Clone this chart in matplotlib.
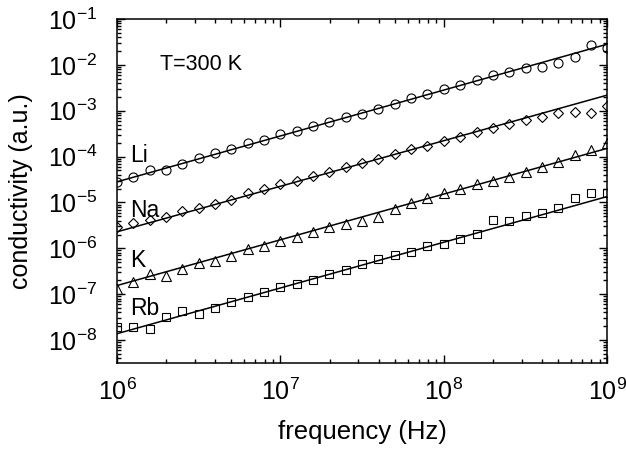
import numpy as np
import matplotlib
matplotlib.use("Agg")
import matplotlib.pyplot as plt
from matplotlib.ticker import LogLocator, NullFormatter

plt.rcParams['font.family'] = ['Liberation Sans', 'DejaVu Sans']
plt.rcParams['mathtext.fontset'] = 'custom'
plt.rcParams['mathtext.rm'] = 'Liberation Sans'
plt.rcParams['mathtext.it'] = 'Liberation Sans'

# log10 of frequency, 10 points per decade
log_freq = np.arange(31) / 10.0 + 6.0

# log10 of conductivity
li = [-4.55, -4.44, -4.30, -4.29, -4.17, -4.04, -3.93, -3.83, -3.71, -3.64,
      -3.51, -3.44, -3.33, -3.24, -3.14, -3.07, -2.97, -2.85, -2.73, -2.64,
      -2.53, -2.43, -2.32, -2.23, -2.15, -2.08, -2.05, -1.95, -1.83, -1.57, -1.63]
na = [-5.54, -5.44, -5.38, -5.31, -5.18, -5.11, -5.03, -4.95, -4.80, -4.71,
      -4.60, -4.53, -4.43, -4.33, -4.23, -4.15, -4.05, -3.94, -3.84, -3.76,
      -3.67, -3.57, -3.46, -3.38, -3.30, -3.20, -3.14, -3.06, -3.03, -3.05, -2.90]
k = [-6.89, -6.73, -6.56, -6.60, -6.46, -6.33, -6.28, -6.17, -6.01, -5.95,
     -5.83, -5.75, -5.64, -5.53, -5.47, -5.40, -5.32, -5.15, -5.01, -4.90,
     -4.80, -4.70, -4.59, -4.53, -4.45, -4.34, -4.22, -4.12, -3.97, -3.86, -3.71]
rb = [-7.72, -7.72, -7.75, -7.49, -7.36, -7.42, -7.29, -7.18, -7.06, -6.95,
      -6.85, -6.78, -6.68, -6.55, -6.47, -6.35, -6.24, -6.15, -6.07, -5.94,
      -5.91, -5.80, -5.69, -5.39, -5.40, -5.30, -5.24, -5.11, -4.91, -4.80, -4.80]

# fitted lines: log10 value at 1e6 and 1e9
fit_li = [-4.55, -1.55]
fit_na = [-5.64, -2.66]
fit_k = [-6.81, -3.82]
fit_rb = [-7.86, -4.87]

names = ['Li', 'Na', 'K', 'Rb']
series = [li, na, k, rb]
fits = [fit_li, fit_na, fit_k, fit_rb]
markers = ['o', 'D', '^', 's']
msizes = [6.5, 5.0, 6.5, 5.5]
label_y = [1.07e-4, 6.8e-6, 5.4e-7, 5.0e-8]

fig = plt.figure(figsize=(6.26, 4.51), dpi=100)
ax = fig.add_axes([0.187, 0.195, 0.783, 0.763])

freq = 10 ** log_freq
for s, f, m, ms in zip(series, fits, markers, msizes):
    ax.plot(freq, 10 ** np.array(s), linestyle='none', marker=m, ms=ms,
            mfc='none', mec='black', mew=0.8)
    ax.plot([1e6, 1e9], [10 ** f[0], 10 ** f[1]], color='black', lw=1.1)

ax.set_xscale('log')
ax.set_yscale('log')
ax.set_xlim(1e6, 1e9)
ax.set_ylim(10 ** -8.5, 1e-1)

ax.xaxis.set_major_locator(LogLocator(base=10, numticks=10))
ax.yaxis.set_major_locator(LogLocator(base=10, numticks=12))
ax.xaxis.set_minor_locator(LogLocator(base=10, subs=np.arange(2, 10), numticks=12))
ax.yaxis.set_minor_locator(LogLocator(base=10, subs=np.arange(2, 10), numticks=12))
ax.yaxis.set_minor_formatter(NullFormatter())
ax.xaxis.set_minor_formatter(NullFormatter())

ax.tick_params(which='both', direction='in', top=True, right=True, width=1.0)
ax.tick_params(which='major', length=6, labelsize=18)
ax.tick_params(axis='x', which='major', pad=11)
ax.tick_params(axis='y', which='major', pad=14)
ax.tick_params(which='minor', length=3)
for sp in ax.spines.values():
    sp.set_linewidth(1.1)

ax.set_xlabel('frequency (Hz)', fontsize=18.5, labelpad=11)
ax.set_ylabel('conductivity (a.u.)', fontsize=18, labelpad=11)

for n, y in zip(names, label_y):
    ax.text(1.2e6, y, n, fontsize=16.5, ha='left', va='center')
ax.text(1.83e6, 1.0e-2, 'T=300 K', fontsize=15.5, ha='left', va='center')

fig.savefig('out.png', dpi=100)
